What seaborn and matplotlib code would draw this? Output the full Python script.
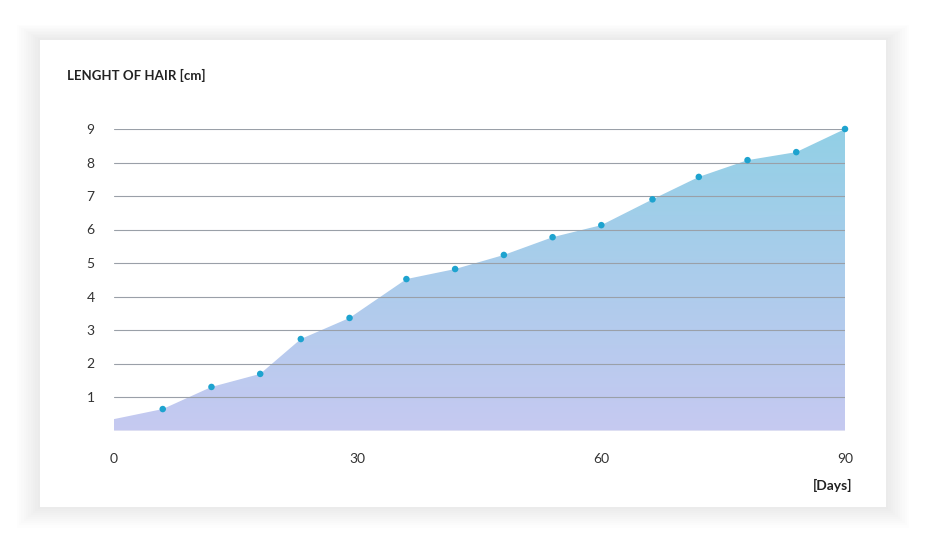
import numpy as np
import matplotlib
matplotlib.use("Agg")
import matplotlib.pyplot as plt
import seaborn as sns
from matplotlib.patches import FancyBboxPatch, Polygon

days = [0, 6, 12, 18, 23, 29, 36, 42, 48, 54, 60, 66.3, 72, 78, 84, 90]
length = [0.34, 0.64, 1.30, 1.69, 2.73, 3.36, 4.52, 4.82, 5.24, 5.77, 6.13, 6.9, 7.57, 8.07, 8.31, 9.0]
xticks = [0, 30, 60, 90]
yticks = [1, 2, 3, 4, 5, 6, 7, 8, 9]

sns.set_theme(style="white")
plt.rcParams['font.family'] = ['Lato', 'DejaVu Sans']

fig = plt.figure(figsize=(9.26, 5.48), dpi=100)
fig.patch.set_facecolor("white")
# card with soft shadow
n = 10
for i in range(n):
    pad = (n - i) * 0.0025
    fig.patches.append(FancyBboxPatch((40/926 - pad, 1 - 507/548 - pad*1.5), 846/926 + 2*pad, 467/548 + 2*pad*1.3,
                                      boxstyle="square,pad=0", transform=fig.transFigure,
                                      facecolor="black", alpha=0.006, edgecolor="none", zorder=-2))
fig.patches.append(FancyBboxPatch((40/926, 1 - 507/548), 846/926, 467/548, boxstyle="square,pad=0",
                                  transform=fig.transFigure, facecolor="white", edgecolor="none", zorder=-1))

ax = fig.add_axes([114/926, 1 - 430.5/548, (845 - 114)/926, (430.5 - 129)/548])
ax.set_zorder(2)
ax.set_facecolor("none")
ax.set_xlim(0, 90)
ax.set_ylim(0, 9)

# gradient fill
grad = np.linspace(0, 1, 256).reshape(-1, 1)
top = np.array([0x92, 0xd0, 0xe6]) / 255
bot = np.array([0xc6, 0xc9, 0xf1]) / 255
img = bot + (top - bot) * grad
img = img[:, None, :].repeat(2, axis=1)
im = ax.imshow(img, origin="lower", extent=[0, 90, 0, 9], aspect="auto", zorder=1)
poly = Polygon(list(zip(days, length)) + [(90, 0), (0, 0)], closed=True, transform=ax.transData,
               facecolor="none", edgecolor="none")
ax.add_patch(poly)
im.set_clip_path(poly)

for y in yticks:
    ax.axhline(y, color="#9aa0a8", lw=0.8, zorder=2)
ax.axhline(0, color="#9aa0a8", lw=0.8, zorder=2)

sns.scatterplot(x=days[1:], y=length[1:], ax=ax, color="#1ea3cf", s=22, edgecolor="none", zorder=3, clip_on=False)

ax.set_xticks(xticks)
ax.set_yticks(yticks)
ax.tick_params(axis="both", length=0, labelsize=10, colors="#333333")
ax.tick_params(axis="x", pad=16)
ax.tick_params(axis="y", pad=14)
for s in ax.spines.values():
    s.set_visible(False)

fig.text(67/926, 1 - 75/548, "LENGHT OF HAIR [cm]", fontsize=9.5, fontweight="bold", color="#222222", va="center")
fig.text(852/926, 1 - 485/548, "[Days]", fontsize=10, fontweight="bold", color="#222222", va="center", ha="right")

fig.savefig("out.png", dpi=100)
